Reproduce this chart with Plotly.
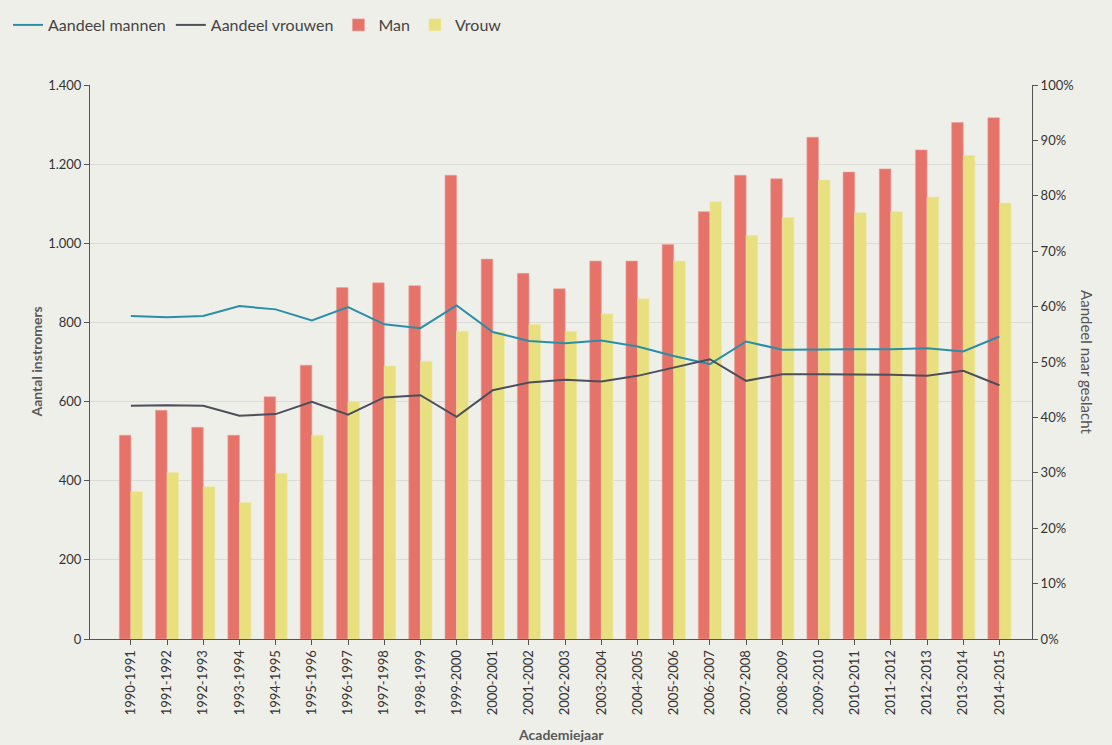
import plotly.graph_objects as go

years = ["1990-1991", "1991-1992", "1992-1993", "1993-1994", "1994-1995", "1995-1996",
         "1996-1997", "1997-1998", "1998-1999", "1999-2000", "2000-2001", "2001-2002",
         "2002-2003", "2003-2004", "2004-2005", "2005-2006", "2006-2007", "2007-2008",
         "2008-2009", "2009-2010", "2010-2011", "2011-2012", "2012-2013", "2013-2014",
         "2014-2015"]

man = [515, 578, 535, 515, 612, 692, 888, 900, 893, 1172, 960, 924, 885, 955, 955,
       997, 1080, 1172, 1163, 1268, 1180, 1188, 1236, 1305, 1317]
vrouw = [373, 421, 385, 345, 419, 515, 600, 690, 702, 778, 776, 795, 778, 822, 860,
         955, 1105, 1020, 1065, 1160, 1077, 1080, 1117, 1222, 1102]

aandeel_mannen = [58.3, 58.1, 58.3, 60.1, 59.5, 57.5, 59.9, 56.8, 56.1, 60.2, 55.4, 53.8,
                  53.4, 53.9, 52.8, 51.1, 49.6, 53.7, 52.2, 52.3, 52.3, 52.3, 52.5, 51.9, 54.6]
aandeel_vrouwen = [42.1, 42.2, 42.1, 40.3, 40.6, 42.8, 40.5, 43.6, 44.0, 40.1, 44.9, 46.3,
                   46.8, 46.5, 47.5, 49.0, 50.5, 46.6, 47.8, 47.8, 47.8, 47.7, 47.5, 48.4, 45.8]

FONT = "Lato, 'Open Sans', sans-serif"
BG = "#efefea"

fig = go.Figure()
fig.add_trace(go.Scatter(x=years, y=aandeel_mannen, name="Aandeel mannen", mode="lines",
                         line=dict(color="#2b8ea8", width=2), yaxis="y2"))
fig.add_trace(go.Scatter(x=years, y=aandeel_vrouwen, name="Aandeel vrouwen", mode="lines",
                         line=dict(color="#4b4f5b", width=2), yaxis="y2"))
fig.add_trace(go.Bar(x=years, y=man, name="Man", marker=dict(color="#e5736a",
                     line=dict(color="#eea09a", width=0.6))))
fig.add_trace(go.Bar(x=years, y=vrouw, name="Vrouw", marker=dict(color="#e8e07e",
                     line=dict(color="#efe9a8", width=0.6))))

axis_common = dict(showline=True, linecolor="#555555", linewidth=1, ticks="outside",
                   ticklen=5, tickcolor="#555555", tickfont=dict(size=13, color="#333333"),
                   zeroline=False)

fig.update_layout(
    width=1104, height=737,
    paper_bgcolor=BG, plot_bgcolor=BG,
    font=dict(family=FONT, color="#333333"),
    separators=",.",
    margin=dict(l=82, r=80, t=77, b=106),
    barmode="group", bargap=0.36, bargroupgap=0,
    xaxis=dict(type="category", categoryarray=years, range=[-1.13, 24.9],
               tickangle=-90, showgrid=False, **axis_common),
    yaxis=dict(range=[0, 1400], dtick=200, tickformat=",d", showgrid=True,
               gridcolor="#dcdcd6", gridwidth=1, **axis_common),
    yaxis2=dict(overlaying="y", side="right", range=[0, 100], dtick=10, ticksuffix="%",
                showgrid=False, **axis_common),
    legend=dict(orientation="h", xref="container", yref="container", x=0.0, y=1.0,
                xanchor="left", yanchor="top", font=dict(size=16, color="#444444"),
                bgcolor="rgba(0,0,0,0)", traceorder="normal", itemwidth=30),
    showlegend=True,
    annotations=[
        dict(text="<b>Aantal instromers</b>", xref="paper", yref="paper", x=-0.069, y=0.5,
             showarrow=False, textangle=-90, font=dict(size=14, color="#5a5a5a")),
        dict(text="Aandeel naar geslacht", xref="paper", yref="paper", x=1.070, y=0.5,
             showarrow=False, textangle=90, font=dict(size=15, color="#555555")),
        dict(text="<b>Academiejaar</b>", xref="paper", yref="paper", x=0.5, y=-0.172,
             yanchor="middle", showarrow=False, font=dict(size=14, color="#5a5a5a")),
    ],
)

fig.write_html("out.html", post_script="document.body.style.backgroundColor='%s';" % BG)
